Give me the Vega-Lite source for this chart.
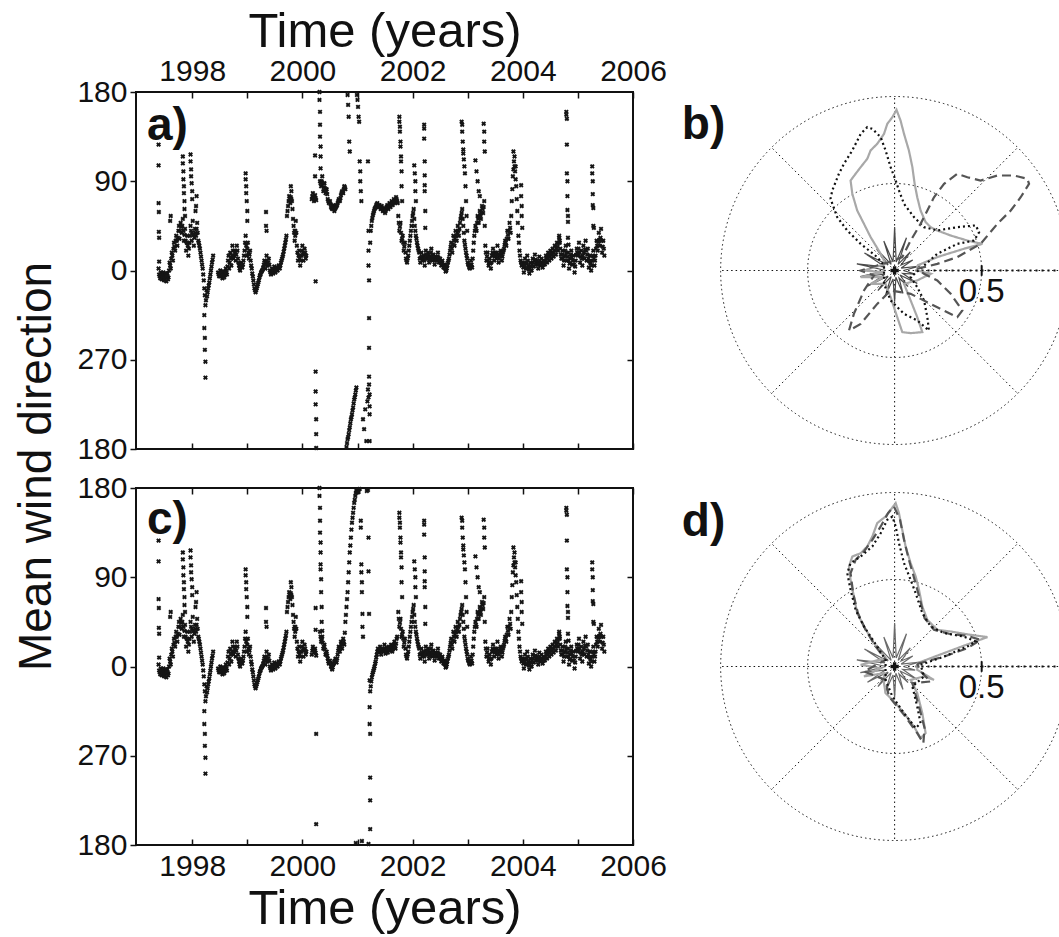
{
"$schema": "https://vega.github.io/schema/vega-lite/v6.json",
"padding": {"left": 12, "top": 6, "right": 0, "bottom": 0},
"background": "white",
"config": {
 "font": "Liberation Sans",
 "view": {"stroke": "#111", "strokeWidth": 2},
 "axis": {"labelFont": "Liberation Sans", "titleFont": "Liberation Sans", "labelFontSize": 30, "labelColor": "#111", "titleFontSize": 49, "titleFontWeight": "normal", "titleColor": "#111", "tickColor": "#111", "tickWidth": 1.5, "grid": false, "domain": false, "labelFlush": false, "labelOverlap": false}
},
"datasets": {
 "ts": [
  {"t":1997.39,"y":2},{"t":1997.41,"y":-6},{"t":1997.43,"y":-2},{"t":1997.45,"y":-9},{"t":1997.47,"y":-4},{"t":1997.49,"y":-10},{"t":1997.51,"y":-5},{"t":1997.53,"y":-11},{"t":1997.55,"y":-3},{"t":1997.57,"y":-7},
  {"t":1997.59,"y":8},{"t":1997.61,"y":2},{"t":1997.63,"y":18},{"t":1997.65,"y":10},{"t":1997.67,"y":28},{"t":1997.69,"y":20},{"t":1997.71,"y":35},{"t":1997.73,"y":25},{"t":1997.75,"y":40},
  {"t":1997.77,"y":32},{"t":1997.79,"y":48},{"t":1997.81,"y":38},{"t":1997.83,"y":52},{"t":1997.85,"y":30},{"t":1997.87,"y":42},
  {"t":1997.89,"y":20},{"t":1997.91,"y":35},{"t":1997.93,"y":15},{"t":1997.95,"y":28},
  {"t":1997.97,"y":45},{"t":1997.99,"y":30},{"t":1998.01,"y":50},{"t":1998.03,"y":25},{"t":1998.05,"y":42},{"t":1998.07,"y":35},{"t":1998.09,"y":48},{"t":1998.11,"y":30},
  {"t":1998.13,"y":25},{"t":1998.15,"y":18},{"t":1998.17,"y":10},{"t":1998.19,"y":2},
  {"t":1998.21,"y":-10},{"t":1998.23,"y":-25},{"t":1998.24,"y":-35},{"t":1998.25,"y":-30},{"t":1998.26,"y":-20},
  {"t":1998.28,"y":-22},{"t":1998.30,"y":-15},{"t":1998.32,"y":-8},{"t":1998.34,"y":0},{"t":1998.36,"y":8},{"t":1998.38,"y":15},
  {"t":1998.47,"y":-2},{"t":1998.49,"y":-6},{"t":1998.51,"y":0},{"t":1998.53,"y":-4},{"t":1998.55,"y":-8},{"t":1998.57,"y":-2},{"t":1998.59,"y":-5},{"t":1998.61,"y":2},{"t":1998.63,"y":-4},
  {"t":1998.65,"y":10},{"t":1998.67,"y":2},{"t":1998.69,"y":18},{"t":1998.71,"y":5},{"t":1998.73,"y":25},{"t":1998.75,"y":12},
  {"t":1998.77,"y":20},{"t":1998.79,"y":10},{"t":1998.81,"y":25},{"t":1998.83,"y":12},
  {"t":1998.85,"y":5},{"t":1998.87,"y":0},{"t":1998.89,"y":8},{"t":1998.91,"y":3},{"t":1998.93,"y":10},
  {"t":1998.95,"y":20},{"t":1998.97,"y":35},{"t":1998.99,"y":15},{"t":1999.01,"y":28},
  {"t":1999.03,"y":12},{"t":1999.05,"y":20},{"t":1999.07,"y":5},
  {"t":1999.09,"y":-3},{"t":1999.11,"y":-10},{"t":1999.13,"y":-18},{"t":1999.15,"y":-22},{"t":1999.17,"y":-18},
  {"t":1999.19,"y":-14},{"t":1999.21,"y":-10},{"t":1999.23,"y":-5},{"t":1999.25,"y":-2},{"t":1999.27,"y":0},{"t":1999.29,"y":3},
  {"t":1999.31,"y":10},{"t":1999.33,"y":2},{"t":1999.35,"y":15},{"t":1999.37,"y":5},{"t":1999.39,"y":12},{"t":1999.41,"y":0},
  {"t":1999.43,"y":-4},{"t":1999.45,"y":2},{"t":1999.47,"y":-3},{"t":1999.49,"y":4},{"t":1999.51,"y":-2},{"t":1999.53,"y":3},{"t":1999.55,"y":0},{"t":1999.57,"y":5},{"t":1999.59,"y":2},
  {"t":1999.61,"y":8},{"t":1999.63,"y":12},{"t":1999.65,"y":16},{"t":1999.67,"y":22},{"t":1999.69,"y":28},{"t":1999.71,"y":35},
  {"t":1999.72,"y":55},{"t":1999.74,"y":65},{"t":1999.76,"y":75},{"t":1999.78,"y":68},{"t":1999.80,"y":80},{"t":1999.82,"y":62},
  {"t":1999.84,"y":45},{"t":1999.86,"y":30},{"t":1999.88,"y":50},{"t":1999.90,"y":25},
  {"t":1999.92,"y":10},{"t":1999.94,"y":20},{"t":1999.96,"y":5},
  {"t":1999.98,"y":15},{"t":2000.00,"y":25},{"t":2000.02,"y":10},{"t":2000.04,"y":22},{"t":2000.06,"y":12},
  {"t":1997.40,"y":-4},{"t":1997.42,"y":-8},{"t":1997.44,"y":-5},{"t":1997.46,"y":-7},{"t":1997.48,"y":-2},{"t":1997.50,"y":-8},{"t":1997.52,"y":-3},{"t":1997.54,"y":-6},{"t":1997.56,"y":-9},{"t":1997.58,"y":0},
  {"t":1997.60,"y":5},{"t":1997.62,"y":12},{"t":1997.64,"y":15},{"t":1997.66,"y":22},{"t":1997.68,"y":24},{"t":1997.70,"y":30},{"t":1997.72,"y":30},{"t":1997.74,"y":33},{"t":1997.76,"y":45},
  {"t":1997.78,"y":40},{"t":1997.80,"y":44},{"t":1997.82,"y":45},{"t":1997.84,"y":40},{"t":1997.86,"y":36},{"t":1997.88,"y":30},
  {"t":1997.90,"y":28},{"t":1997.92,"y":25},{"t":1997.94,"y":22},{"t":1997.96,"y":35},
  {"t":1997.98,"y":40},{"t":1998.00,"y":38},{"t":1998.02,"y":36},{"t":1998.04,"y":33},{"t":1998.06,"y":38},{"t":1998.08,"y":42},{"t":1998.10,"y":38},{"t":1998.12,"y":28},
  {"t":1998.14,"y":22},{"t":1998.16,"y":14},{"t":1998.18,"y":6},{"t":1998.20,"y":-4},
  {"t":1998.22,"y":-18},{"t":1998.27,"y":-26},{"t":1998.29,"y":-18},{"t":1998.31,"y":-12},{"t":1998.33,"y":-4},{"t":1998.35,"y":4},{"t":1998.37,"y":11},
  {"t":1998.48,"y":-4},{"t":1998.50,"y":-3},{"t":1998.52,"y":-6},{"t":1998.54,"y":-1},{"t":1998.56,"y":-5},{"t":1998.58,"y":-7},{"t":1998.60,"y":-1},{"t":1998.62,"y":-2},
  {"t":1998.64,"y":4},{"t":1998.66,"y":15},{"t":1998.68,"y":8},{"t":1998.70,"y":12},{"t":1998.72,"y":15},{"t":1998.74,"y":20},
  {"t":1998.76,"y":15},{"t":1998.78,"y":18},{"t":1998.80,"y":16},{"t":1998.82,"y":20},{"t":1998.84,"y":8},
  {"t":1998.86,"y":2},{"t":1998.88,"y":4},{"t":1998.90,"y":6},{"t":1998.92,"y":6},{"t":1998.94,"y":15},
  {"t":1998.96,"y":28},{"t":1998.98,"y":25},{"t":1999.00,"y":22},{"t":1999.02,"y":18},
  {"t":1999.04,"y":16},{"t":1999.06,"y":10},{"t":1999.08,"y":2},
  {"t":1999.10,"y":-6},{"t":1999.12,"y":-14},{"t":1999.14,"y":-20},{"t":1999.16,"y":-20},{"t":1999.18,"y":-16},
  {"t":1999.20,"y":-12},{"t":1999.22,"y":-7},{"t":1999.24,"y":-4},{"t":1999.26,"y":-1},{"t":1999.28,"y":1},{"t":1999.30,"y":6},
  {"t":1999.32,"y":6},{"t":1999.34,"y":9},{"t":1999.36,"y":10},{"t":1999.38,"y":8},{"t":1999.40,"y":6},{"t":1999.42,"y":-2},
  {"t":1999.44,"y":-1},{"t":1999.46,"y":0},{"t":1999.48,"y":1},{"t":1999.50,"y":1},{"t":1999.52,"y":0},{"t":1999.54,"y":2},{"t":1999.56,"y":3},{"t":1999.58,"y":4},{"t":1999.60,"y":5},
  {"t":1999.62,"y":10},{"t":1999.64,"y":14},{"t":1999.66,"y":19},{"t":1999.68,"y":25},{"t":1999.70,"y":31},
  {"t":1999.73,"y":60},{"t":1999.75,"y":70},{"t":1999.77,"y":72},{"t":1999.79,"y":74},{"t":1999.81,"y":70},{"t":1999.83,"y":52},
  {"t":1999.85,"y":38},{"t":1999.87,"y":40},{"t":1999.89,"y":38},{"t":1999.91,"y":18},
  {"t":1999.93,"y":15},{"t":1999.95,"y":12},{"t":1999.97,"y":10},
  {"t":1999.99,"y":20},{"t":2000.01,"y":18},{"t":2000.03,"y":16},{"t":2000.05,"y":18},{"t":2000.07,"y":15},
  {"t":1997.39,"y":127},{"t":1997.39,"y":106},{"t":1997.39,"y":68},{"t":1997.395,"y":59},{"t":1997.395,"y":39},{"t":1997.4,"y":33},{"t":1997.4,"y":9},
  {"t":1997.6,"y":50},{"t":1997.61,"y":55},
  {"t":1997.83,"y":115},{"t":1997.83,"y":108},{"t":1997.84,"y":100},{"t":1997.84,"y":92},{"t":1997.85,"y":85},{"t":1997.85,"y":78},{"t":1997.86,"y":70},{"t":1997.86,"y":62},{"t":1997.87,"y":55},
  {"t":1997.97,"y":117},{"t":1997.97,"y":110},{"t":1997.98,"y":102},{"t":1997.98,"y":95},{"t":1997.99,"y":88},{"t":1998.0,"y":80},{"t":1998.0,"y":72},
  {"t":1998.06,"y":60},{"t":1998.07,"y":65},{"t":1998.08,"y":75},
  {"t":1998.22,"y":-45},{"t":1998.22,"y":-58},{"t":1998.23,"y":-68},{"t":1998.23,"y":-80},{"t":1998.24,"y":-92},{"t":1998.24,"y":-108},
  {"t":1998.97,"y":98},{"t":1998.97,"y":92},{"t":1998.98,"y":85},{"t":1998.98,"y":78},{"t":1998.99,"y":70},{"t":1999.0,"y":60},{"t":1999.0,"y":50},
  {"t":1999.34,"y":59},{"t":1999.34,"y":45},{"t":1999.35,"y":40},
  {"t":1999.79,"y":85},{"t":1999.8,"y":72},{"t":1999.86,"y":40},{"t":1999.87,"y":35},
  {"t":2000.31,"y":180},{"t":2000.31,"y":172},{"t":2000.32,"y":160},{"t":2000.32,"y":147},{"t":2000.32,"y":135},{"t":2000.33,"y":125},{"t":2000.33,"y":115},{"t":2000.33,"y":103},

  {"t":2000.17,"y":72,"p":"a"},{"t":2000.19,"y":78,"p":"a"},{"t":2000.21,"y":70,"p":"a"},{"t":2000.23,"y":76,"p":"a"},{"t":2000.25,"y":71,"p":"a"},
  {"t":2000.32,"y":90,"p":"a"},{"t":2000.34,"y":85,"p":"a"},{"t":2000.36,"y":95,"p":"a"},{"t":2000.38,"y":80,"p":"a"},{"t":2000.40,"y":88,"p":"a"},{"t":2000.42,"y":78,"p":"a"},{"t":2000.44,"y":82,"p":"a"},
  {"t":2000.46,"y":72,"p":"a"},{"t":2000.48,"y":68,"p":"a"},{"t":2000.50,"y":70,"p":"a"},{"t":2000.52,"y":64,"p":"a"},{"t":2000.54,"y":62,"p":"a"},{"t":2000.56,"y":66,"p":"a"},{"t":2000.58,"y":60,"p":"a"},{"t":2000.60,"y":63,"p":"a"},{"t":2000.62,"y":65,"p":"a"},
  {"t":2000.64,"y":68,"p":"a"},{"t":2000.66,"y":72,"p":"a"},{"t":2000.68,"y":70,"p":"a"},{"t":2000.70,"y":76,"p":"a"},{"t":2000.72,"y":80,"p":"a"},{"t":2000.74,"y":78,"p":"a"},{"t":2000.76,"y":85,"p":"a"},{"t":2000.78,"y":82,"p":"a"},
  {"t":2000.80,"y":-178,"p":"a"},{"t":2000.82,"y":-170,"p":"a"},{"t":2000.84,"y":-165,"p":"a"},{"t":2000.86,"y":-158,"p":"a"},{"t":2000.88,"y":-150,"p":"a"},{"t":2000.90,"y":-145,"p":"a"},{"t":2000.92,"y":-138,"p":"a"},{"t":2000.94,"y":-130,"p":"a"},{"t":2000.96,"y":-125,"p":"a"},{"t":2000.98,"y":-118,"p":"a"},
  {"t":2001.18,"y":-132,"p":"a"},{"t":2001.19,"y":-120,"p":"a"},{"t":2001.20,"y":-128,"p":"a"},{"t":2001.21,"y":-115,"p":"a"},{"t":2001.22,"y":-125,"p":"a"},
  {"t":2001.23,"y":28,"p":"a"},{"t":2001.24,"y":40,"p":"a"},{"t":2001.26,"y":50,"p":"a"},{"t":2001.28,"y":56,"p":"a"},{"t":2001.30,"y":60,"p":"a"},{"t":2001.32,"y":63,"p":"a"},{"t":2001.34,"y":66,"p":"a"},
  {"t":2001.36,"y":68,"p":"a"},{"t":2001.38,"y":64,"p":"a"},{"t":2001.40,"y":66,"p":"a"},{"t":2001.42,"y":62,"p":"a"},{"t":2001.44,"y":65,"p":"a"},{"t":2001.46,"y":60,"p":"a"},{"t":2001.48,"y":63,"p":"a"},{"t":2001.50,"y":58,"p":"a"},{"t":2001.52,"y":62,"p":"a"},{"t":2001.54,"y":66,"p":"a"},{"t":2001.56,"y":62,"p":"a"},{"t":2001.58,"y":68,"p":"a"},{"t":2001.60,"y":64,"p":"a"},{"t":2001.62,"y":70,"p":"a"},{"t":2001.64,"y":66,"p":"a"},{"t":2001.66,"y":72,"p":"a"},{"t":2001.68,"y":68,"p":"a"},{"t":2001.70,"y":74,"p":"a"},{"t":2001.72,"y":70,"p":"a"},
  {"t":2000.18,"y":75,"p":"a"},{"t":2000.20,"y":74,"p":"a"},{"t":2000.22,"y":73,"p":"a"},{"t":2000.24,"y":73,"p":"a"},{"t":2000.33,"y":88,"p":"a"},{"t":2000.35,"y":90,"p":"a"},{"t":2000.37,"y":88,"p":"a"},{"t":2000.39,"y":84,"p":"a"},{"t":2000.41,"y":83,"p":"a"},{"t":2000.43,"y":80,"p":"a"},{"t":2000.45,"y":77,"p":"a"},{"t":2000.47,"y":70,"p":"a"},{"t":2000.49,"y":69,"p":"a"},{"t":2000.51,"y":67,"p":"a"},{"t":2000.53,"y":63,"p":"a"},{"t":2000.55,"y":64,"p":"a"},{"t":2000.57,"y":63,"p":"a"},{"t":2000.59,"y":62,"p":"a"},{"t":2000.61,"y":64,"p":"a"},{"t":2000.63,"y":66,"p":"a"},{"t":2000.65,"y":70,"p":"a"},{"t":2000.67,"y":71,"p":"a"},{"t":2000.69,"y":73,"p":"a"},{"t":2000.71,"y":78,"p":"a"},{"t":2000.73,"y":79,"p":"a"},{"t":2000.75,"y":82,"p":"a"},{"t":2000.77,"y":84,"p":"a"},
  {"t":2000.81,"y":-174,"p":"a"},{"t":2000.83,"y":-168,"p":"a"},{"t":2000.85,"y":-161,"p":"a"},{"t":2000.87,"y":-154,"p":"a"},{"t":2000.89,"y":-148,"p":"a"},{"t":2000.91,"y":-141,"p":"a"},{"t":2000.93,"y":-134,"p":"a"},{"t":2000.95,"y":-128,"p":"a"},{"t":2000.97,"y":-121,"p":"a"},
  {"t":2001.25,"y":45,"p":"a"},{"t":2001.27,"y":53,"p":"a"},{"t":2001.29,"y":58,"p":"a"},{"t":2001.31,"y":62,"p":"a"},{"t":2001.33,"y":64,"p":"a"},{"t":2001.35,"y":67,"p":"a"},{"t":2001.37,"y":66,"p":"a"},{"t":2001.39,"y":65,"p":"a"},{"t":2001.41,"y":64,"p":"a"},{"t":2001.43,"y":63,"p":"a"},{"t":2001.45,"y":62,"p":"a"},{"t":2001.47,"y":61,"p":"a"},{"t":2001.49,"y":60,"p":"a"},{"t":2001.51,"y":60,"p":"a"},{"t":2001.53,"y":64,"p":"a"},{"t":2001.55,"y":64,"p":"a"},{"t":2001.57,"y":65,"p":"a"},{"t":2001.59,"y":66,"p":"a"},{"t":2001.61,"y":67,"p":"a"},{"t":2001.63,"y":68,"p":"a"},{"t":2001.65,"y":69,"p":"a"},{"t":2001.67,"y":70,"p":"a"},{"t":2001.69,"y":71,"p":"a"},{"t":2001.71,"y":72,"p":"a"},{"t":2001.73,"y":68,"p":"a"},
  {"t":2000.23,"y":116,"p":"a"},{"t":2000.23,"y":95,"p":"a"},{"t":2000.24,"y":-11,"p":"a"},{"t":2000.24,"y":-102,"p":"a"},{"t":2000.24,"y":-122,"p":"a"},{"t":2000.24,"y":-135,"p":"a"},{"t":2000.25,"y":-150,"p":"a"},{"t":2000.25,"y":-165,"p":"a"},{"t":2000.25,"y":-179,"p":"a"},
  {"t":2000.82,"y":177,"p":"a"},{"t":2000.83,"y":167,"p":"a"},{"t":2000.84,"y":155,"p":"a"},{"t":2000.85,"y":130,"p":"a"},{"t":2000.86,"y":120,"p":"a"},
  {"t":2000.99,"y":177,"p":"a"},{"t":2001.0,"y":172,"p":"a"},{"t":2001.01,"y":165,"p":"a"},{"t":2001.02,"y":155,"p":"a"},{"t":2001.03,"y":150,"p":"a"},{"t":2001.04,"y":110,"p":"a"},{"t":2001.05,"y":100,"p":"a"},{"t":2001.05,"y":90,"p":"a"},{"t":2001.06,"y":80,"p":"a"},{"t":2001.07,"y":70,"p":"a"},
  {"t":2001.1,"y":-150,"p":"a"},{"t":2001.12,"y":-160,"p":"a"},{"t":2001.14,"y":-140,"p":"a"},{"t":2001.16,"y":-172,"p":"a"},
  {"t":2001.19,"y":110,"p":"a"},{"t":2001.2,"y":40,"p":"a"},{"t":2001.2,"y":20,"p":"a"},{"t":2001.2,"y":5,"p":"a"},{"t":2001.21,"y":-10,"p":"a"},{"t":2001.21,"y":-48,"p":"a"},{"t":2001.21,"y":-78,"p":"a"},{"t":2001.21,"y":-107,"p":"a"},{"t":2001.22,"y":-137,"p":"a"},{"t":2001.22,"y":-145,"p":"a"},{"t":2001.22,"y":-172,"p":"a"},

  {"t":2000.17,"y":12,"p":"c"},{"t":2000.19,"y":20,"p":"c"},{"t":2000.21,"y":14,"p":"c"},{"t":2000.23,"y":18,"p":"c"},{"t":2000.25,"y":11,"p":"c"},
  {"t":2000.32,"y":35,"p":"c"},{"t":2000.34,"y":25,"p":"c"},{"t":2000.36,"y":30,"p":"c"},{"t":2000.38,"y":18,"p":"c"},{"t":2000.40,"y":22,"p":"c"},{"t":2000.42,"y":12,"p":"c"},{"t":2000.44,"y":15,"p":"c"},
  {"t":2000.46,"y":8,"p":"c"},{"t":2000.48,"y":3,"p":"c"},{"t":2000.50,"y":6,"p":"c"},{"t":2000.52,"y":0,"p":"c"},{"t":2000.54,"y":-3,"p":"c"},{"t":2000.56,"y":2,"p":"c"},{"t":2000.58,"y":5,"p":"c"},{"t":2000.60,"y":8,"p":"c"},{"t":2000.62,"y":4,"p":"c"},
  {"t":2000.64,"y":12,"p":"c"},{"t":2000.66,"y":20,"p":"c"},{"t":2000.68,"y":15,"p":"c"},{"t":2000.70,"y":25,"p":"c"},{"t":2000.72,"y":18,"p":"c"},{"t":2000.74,"y":28,"p":"c"},{"t":2000.76,"y":22,"p":"c"},
  {"t":2000.78,"y":45,"p":"c"},{"t":2000.80,"y":60,"p":"c"},{"t":2000.82,"y":75,"p":"c"},{"t":2000.84,"y":95,"p":"c"},{"t":2000.86,"y":115,"p":"c"},{"t":2000.88,"y":130,"p":"c"},{"t":2000.90,"y":145,"p":"c"},{"t":2000.92,"y":155,"p":"c"},{"t":2000.94,"y":165,"p":"c"},{"t":2000.96,"y":172,"p":"c"},{"t":2000.98,"y":177,"p":"c"},
  {"t":2001.00,"y":178,"p":"c"},{"t":2001.02,"y":176,"p":"c"},{"t":2001.04,"y":179,"p":"c"},{"t":2001.17,"y":177,"p":"c"},{"t":2001.19,"y":178,"p":"c"},
  {"t":2001.23,"y":-25,"p":"c"},{"t":2001.25,"y":-15,"p":"c"},{"t":2001.27,"y":-8,"p":"c"},{"t":2001.29,"y":-4,"p":"c"},{"t":2001.31,"y":0,"p":"c"},{"t":2001.33,"y":5,"p":"c"},
  {"t":2001.35,"y":12,"p":"c"},{"t":2001.37,"y":18,"p":"c"},{"t":2001.39,"y":14,"p":"c"},{"t":2001.41,"y":20,"p":"c"},{"t":2001.43,"y":12,"p":"c"},{"t":2001.45,"y":18,"p":"c"},{"t":2001.47,"y":15,"p":"c"},{"t":2001.49,"y":22,"p":"c"},{"t":2001.51,"y":13,"p":"c"},{"t":2001.53,"y":19,"p":"c"},{"t":2001.55,"y":14,"p":"c"},{"t":2001.57,"y":20,"p":"c"},{"t":2001.59,"y":16,"p":"c"},{"t":2001.61,"y":22,"p":"c"},{"t":2001.63,"y":15,"p":"c"},{"t":2001.65,"y":20,"p":"c"},{"t":2001.67,"y":25,"p":"c"},{"t":2001.69,"y":18,"p":"c"},{"t":2001.71,"y":28,"p":"c"},
  {"t":2000.18,"y":16,"p":"c"},{"t":2000.20,"y":17,"p":"c"},{"t":2000.22,"y":16,"p":"c"},{"t":2000.24,"y":14,"p":"c"},{"t":2000.33,"y":30,"p":"c"},{"t":2000.35,"y":28,"p":"c"},{"t":2000.37,"y":24,"p":"c"},{"t":2000.39,"y":20,"p":"c"},{"t":2000.41,"y":17,"p":"c"},{"t":2000.43,"y":13,"p":"c"},{"t":2000.45,"y":11,"p":"c"},{"t":2000.47,"y":5,"p":"c"},{"t":2000.49,"y":4,"p":"c"},{"t":2000.51,"y":3,"p":"c"},{"t":2000.53,"y":-1,"p":"c"},{"t":2000.55,"y":-1,"p":"c"},{"t":2000.57,"y":3,"p":"c"},{"t":2000.59,"y":6,"p":"c"},{"t":2000.61,"y":6,"p":"c"},{"t":2000.63,"y":8,"p":"c"},{"t":2000.65,"y":16,"p":"c"},{"t":2000.67,"y":18,"p":"c"},{"t":2000.69,"y":20,"p":"c"},{"t":2000.71,"y":22,"p":"c"},{"t":2000.73,"y":23,"p":"c"},{"t":2000.75,"y":25,"p":"c"},{"t":2000.77,"y":34,"p":"c"},
  {"t":2000.79,"y":52,"p":"c"},{"t":2000.81,"y":68,"p":"c"},{"t":2000.83,"y":85,"p":"c"},{"t":2000.85,"y":105,"p":"c"},{"t":2000.87,"y":122,"p":"c"},{"t":2000.89,"y":138,"p":"c"},{"t":2000.91,"y":150,"p":"c"},{"t":2000.93,"y":160,"p":"c"},{"t":2000.95,"y":168,"p":"c"},{"t":2000.97,"y":175,"p":"c"},
  {"t":2001.24,"y":-20,"p":"c"},{"t":2001.26,"y":-11,"p":"c"},{"t":2001.28,"y":-6,"p":"c"},{"t":2001.30,"y":-2,"p":"c"},{"t":2001.32,"y":3,"p":"c"},{"t":2001.34,"y":9,"p":"c"},{"t":2001.36,"y":15,"p":"c"},{"t":2001.38,"y":16,"p":"c"},{"t":2001.40,"y":17,"p":"c"},{"t":2001.42,"y":16,"p":"c"},{"t":2001.44,"y":15,"p":"c"},{"t":2001.46,"y":16,"p":"c"},{"t":2001.48,"y":18,"p":"c"},{"t":2001.50,"y":17,"p":"c"},{"t":2001.52,"y":16,"p":"c"},{"t":2001.54,"y":17,"p":"c"},{"t":2001.56,"y":17,"p":"c"},{"t":2001.58,"y":18,"p":"c"},{"t":2001.60,"y":19,"p":"c"},{"t":2001.62,"y":18,"p":"c"},{"t":2001.64,"y":17,"p":"c"},{"t":2001.66,"y":22,"p":"c"},{"t":2001.68,"y":21,"p":"c"},{"t":2001.70,"y":23,"p":"c"},{"t":2001.72,"y":30,"p":"c"},
  {"t":2000.24,"y":59,"p":"c"},{"t":2000.24,"y":37,"p":"c"},{"t":2000.25,"y":-68,"p":"c"},{"t":2000.25,"y":-159,"p":"c"},
  {"t":2000.33,"y":98,"p":"c"},{"t":2000.34,"y":88,"p":"c"},{"t":2000.34,"y":75,"p":"c"},{"t":2000.35,"y":60,"p":"c"},{"t":2000.35,"y":45,"p":"c"},{"t":2000.36,"y":36,"p":"c"},
  {"t":2001.06,"y":147,"p":"c"},{"t":2001.06,"y":140,"p":"c"},{"t":2001.07,"y":103,"p":"c"},{"t":2001.07,"y":95,"p":"c"},{"t":2001.08,"y":85,"p":"c"},{"t":2001.08,"y":75,"p":"c"},{"t":2001.09,"y":53,"p":"c"},{"t":2001.09,"y":40,"p":"c"},{"t":2001.1,"y":30,"p":"c"},
  {"t":2001.2,"y":130,"p":"c"},{"t":2001.2,"y":96,"p":"c"},{"t":2001.21,"y":53,"p":"c"},
  {"t":2001.22,"y":-14,"p":"c"},{"t":2001.22,"y":-41,"p":"c"},{"t":2001.22,"y":-58,"p":"c"},{"t":2001.23,"y":-68,"p":"c"},{"t":2001.23,"y":-112,"p":"c"},{"t":2001.23,"y":-135,"p":"c"},{"t":2001.23,"y":-164,"p":"c"},
  {"t":2000.97,"y":-178,"p":"c"},{"t":2001.08,"y":-176,"p":"c"},{"t":2001.2,"y":-179,"p":"c"},

  {"t":2001.74,"y":55},{"t":2001.76,"y":40},{"t":2001.78,"y":48},{"t":2001.80,"y":30},{"t":2001.82,"y":35},{"t":2001.84,"y":20},{"t":2001.86,"y":28},{"t":2001.88,"y":12},{"t":2001.90,"y":8},
  {"t":2001.92,"y":15},{"t":2001.94,"y":25},{"t":2001.96,"y":35},{"t":2001.98,"y":45},{"t":2002.00,"y":55},{"t":2002.02,"y":62},
  {"t":2002.04,"y":45},{"t":2002.06,"y":35},{"t":2002.08,"y":28},{"t":2002.10,"y":22},{"t":2002.12,"y":18},
  {"t":2002.14,"y":8},{"t":2002.16,"y":18},{"t":2002.18,"y":10},{"t":2002.20,"y":15},{"t":2002.22,"y":5},{"t":2002.24,"y":20},{"t":2002.26,"y":12},{"t":2002.28,"y":18},{"t":2002.30,"y":8},{"t":2002.32,"y":14},{"t":2002.34,"y":22},{"t":2002.36,"y":10},{"t":2002.38,"y":16},{"t":2002.40,"y":6},{"t":2002.42,"y":14},{"t":2002.44,"y":10},{"t":2002.46,"y":18},{"t":2002.48,"y":8},{"t":2002.50,"y":12},{"t":2002.52,"y":5},{"t":2002.54,"y":10},{"t":2002.56,"y":3},{"t":2002.58,"y":6},{"t":2002.60,"y":-1},{"t":2002.62,"y":2},{"t":2002.64,"y":8},
  {"t":2002.66,"y":12},{"t":2002.68,"y":20},{"t":2002.70,"y":28},{"t":2002.72,"y":18},{"t":2002.74,"y":35},{"t":2002.76,"y":25},{"t":2002.78,"y":40},{"t":2002.80,"y":30},{"t":2002.82,"y":45},{"t":2002.84,"y":35},{"t":2002.86,"y":48},
  {"t":2002.88,"y":55},{"t":2002.90,"y":62},{"t":2002.92,"y":45},
  {"t":2002.94,"y":30},{"t":2002.96,"y":22},{"t":2002.98,"y":15},{"t":2003.00,"y":8},{"t":2003.02,"y":5},{"t":2003.04,"y":2},{"t":2003.06,"y":10},{"t":2003.08,"y":3},
  {"t":2003.10,"y":20},{"t":2003.12,"y":35},{"t":2003.14,"y":45},{"t":2003.16,"y":40},{"t":2003.18,"y":55},{"t":2003.20,"y":48},{"t":2003.22,"y":60},{"t":2003.24,"y":52},{"t":2003.26,"y":65},{"t":2003.28,"y":58},{"t":2003.30,"y":70},
  {"t":2003.32,"y":25},{"t":2003.34,"y":10},{"t":2003.36,"y":18},{"t":2003.38,"y":5},{"t":2003.40,"y":12},{"t":2003.42,"y":2},{"t":2003.44,"y":15},
  {"t":2003.46,"y":22},{"t":2003.48,"y":10},{"t":2003.50,"y":18},{"t":2003.52,"y":12},{"t":2003.54,"y":25},{"t":2003.56,"y":8},{"t":2003.58,"y":15},{"t":2003.60,"y":20},{"t":2003.62,"y":10},{"t":2003.64,"y":18},{"t":2003.66,"y":22},
  {"t":2003.68,"y":30},{"t":2003.70,"y":25},{"t":2003.72,"y":40},{"t":2003.74,"y":32},{"t":2003.76,"y":48},{"t":2003.78,"y":38},
  {"t":2003.80,"y":70},{"t":2003.82,"y":95},{"t":2003.84,"y":110},{"t":2003.86,"y":100},{"t":2003.88,"y":85},{"t":2003.90,"y":60},
  {"t":2003.92,"y":35},{"t":2003.94,"y":20},{"t":2003.96,"y":10},{"t":2003.98,"y":5},
  {"t":2004.00,"y":8},{"t":2004.02,"y":-2},{"t":2004.04,"y":12},{"t":2004.06,"y":2},{"t":2004.08,"y":15},{"t":2004.10,"y":5},{"t":2004.12,"y":-3},{"t":2004.14,"y":8},{"t":2004.16,"y":0},{"t":2004.18,"y":12},{"t":2004.20,"y":4},{"t":2004.22,"y":16},{"t":2004.24,"y":6},{"t":2004.26,"y":10},{"t":2004.28,"y":2},{"t":2004.30,"y":14},{"t":2004.32,"y":5},{"t":2004.34,"y":12},{"t":2004.36,"y":3},{"t":2004.38,"y":10},{"t":2004.40,"y":6},{"t":2004.42,"y":15},{"t":2004.44,"y":8},{"t":2004.46,"y":18},{"t":2004.48,"y":10},{"t":2004.50,"y":20},{"t":2004.52,"y":12},{"t":2004.54,"y":22},{"t":2004.56,"y":14},{"t":2004.58,"y":25},{"t":2004.60,"y":16},{"t":2004.62,"y":28},{"t":2004.64,"y":20},{"t":2004.66,"y":35},{"t":2004.68,"y":22},
  {"t":2004.70,"y":12},{"t":2004.72,"y":20},{"t":2004.74,"y":5},{"t":2004.76,"y":15},{"t":2004.78,"y":25},{"t":2004.80,"y":10},{"t":2004.82,"y":18},{"t":2004.84,"y":2},{"t":2004.86,"y":12},{"t":2004.88,"y":20},{"t":2004.90,"y":6},{"t":2004.92,"y":15},{"t":2004.94,"y":-2},{"t":2004.96,"y":10},{"t":2004.98,"y":22},
  {"t":2005.00,"y":15},{"t":2005.02,"y":28},{"t":2005.04,"y":8},{"t":2005.06,"y":20},{"t":2005.08,"y":5},{"t":2005.10,"y":25},{"t":2005.12,"y":12},{"t":2005.14,"y":30},{"t":2005.16,"y":10},{"t":2005.18,"y":22},{"t":2005.20,"y":3},{"t":2005.22,"y":15},
  {"t":2005.24,"y":0},{"t":2005.26,"y":10},{"t":2005.28,"y":20},{"t":2005.30,"y":5},{"t":2005.32,"y":15},
  {"t":2005.34,"y":30},{"t":2005.36,"y":20},{"t":2005.38,"y":38},{"t":2005.40,"y":25},{"t":2005.42,"y":42},{"t":2005.44,"y":18},{"t":2005.46,"y":30},{"t":2005.48,"y":15},
  {"t":2001.75,"y":48},{"t":2001.77,"y":44},{"t":2001.79,"y":38},{"t":2001.81,"y":32},{"t":2001.83,"y":28},{"t":2001.85,"y":24},{"t":2001.87,"y":18},{"t":2001.89,"y":10},{"t":2001.91,"y":12},
  {"t":2001.93,"y":20},{"t":2001.95,"y":30},{"t":2001.97,"y":40},{"t":2001.99,"y":50},{"t":2002.01,"y":58},{"t":2002.03,"y":52},
  {"t":2002.05,"y":40},{"t":2002.07,"y":32},{"t":2002.09,"y":25},{"t":2002.11,"y":20},{"t":2002.13,"y":12},
  {"t":2002.15,"y":13},{"t":2002.17,"y":14},{"t":2002.19,"y":12},{"t":2002.21,"y":10},{"t":2002.23,"y":12},{"t":2002.25,"y":16},{"t":2002.27,"y":15},{"t":2002.29,"y":13},{"t":2002.31,"y":11},{"t":2002.33,"y":18},{"t":2002.35,"y":16},{"t":2002.37,"y":13},{"t":2002.39,"y":11},{"t":2002.41,"y":10},{"t":2002.43,"y":12},{"t":2002.45,"y":14},{"t":2002.47,"y":13},{"t":2002.49,"y":10},{"t":2002.51,"y":8},{"t":2002.53,"y":7},{"t":2002.55,"y":6},{"t":2002.57,"y":4},{"t":2002.59,"y":2},{"t":2002.61,"y":0},{"t":2002.63,"y":5},{"t":2002.65,"y":10},
  {"t":2002.67,"y":16},{"t":2002.69,"y":24},{"t":2002.71,"y":22},{"t":2002.73,"y":26},{"t":2002.75,"y":30},{"t":2002.77,"y":32},{"t":2002.79,"y":35},{"t":2002.81,"y":38},{"t":2002.83,"y":40},{"t":2002.85,"y":42},{"t":2002.87,"y":52},
  {"t":2002.89,"y":58},{"t":2002.91,"y":52},{"t":2002.93,"y":38},
  {"t":2002.95,"y":26},{"t":2002.97,"y":18},{"t":2002.99,"y":12},{"t":2003.01,"y":6},{"t":2003.03,"y":3},{"t":2003.05,"y":6},{"t":2003.07,"y":6},{"t":2003.09,"y":12},
  {"t":2003.11,"y":28},{"t":2003.13,"y":40},{"t":2003.15,"y":42},{"t":2003.17,"y":48},{"t":2003.19,"y":52},{"t":2003.21,"y":54},{"t":2003.23,"y":56},{"t":2003.25,"y":58},{"t":2003.27,"y":62},{"t":2003.29,"y":64},{"t":2003.31,"y":45},
  {"t":2003.33,"y":18},{"t":2003.35,"y":14},{"t":2003.37,"y":10},{"t":2003.39,"y":8},{"t":2003.41,"y":7},{"t":2003.43,"y":8},{"t":2003.45,"y":18},
  {"t":2003.47,"y":16},{"t":2003.49,"y":14},{"t":2003.51,"y":15},{"t":2003.53,"y":18},{"t":2003.55,"y":16},{"t":2003.57,"y":12},{"t":2003.59,"y":18},{"t":2003.61,"y":15},{"t":2003.63,"y":14},{"t":2003.65,"y":20},{"t":2003.67,"y":26},
  {"t":2003.69,"y":28},{"t":2003.71,"y":32},{"t":2003.73,"y":36},{"t":2003.75,"y":40},{"t":2003.77,"y":43},{"t":2003.79,"y":55},
  {"t":2003.81,"y":82},{"t":2003.83,"y":102},{"t":2003.85,"y":105},{"t":2003.87,"y":92},{"t":2003.89,"y":72},{"t":2003.91,"y":48},
  {"t":2003.93,"y":28},{"t":2003.95,"y":15},{"t":2003.97,"y":8},{"t":2003.99,"y":6},
  {"t":2004.01,"y":3},{"t":2004.03,"y":5},{"t":2004.05,"y":7},{"t":2004.07,"y":8},{"t":2004.09,"y":10},{"t":2004.11,"y":1},{"t":2004.13,"y":2},{"t":2004.15,"y":4},{"t":2004.17,"y":6},{"t":2004.19,"y":8},{"t":2004.21,"y":10},{"t":2004.23,"y":11},{"t":2004.25,"y":8},{"t":2004.27,"y":6},{"t":2004.29,"y":8},{"t":2004.31,"y":10},{"t":2004.33,"y":8},{"t":2004.35,"y":7},{"t":2004.37,"y":6},{"t":2004.39,"y":8},{"t":2004.41,"y":10},{"t":2004.43,"y":12},{"t":2004.45,"y":13},{"t":2004.47,"y":14},{"t":2004.49,"y":15},{"t":2004.51,"y":16},{"t":2004.53,"y":17},{"t":2004.55,"y":18},{"t":2004.57,"y":20},{"t":2004.59,"y":20},{"t":2004.61,"y":22},{"t":2004.63,"y":24},{"t":2004.65,"y":28},{"t":2004.67,"y":28},{"t":2004.69,"y":16},
  {"t":2004.71,"y":16},{"t":2004.73,"y":12},{"t":2004.75,"y":10},{"t":2004.77,"y":20},{"t":2004.79,"y":18},{"t":2004.81,"y":14},{"t":2004.83,"y":10},{"t":2004.85,"y":7},{"t":2004.87,"y":16},{"t":2004.89,"y":13},{"t":2004.91,"y":10},{"t":2004.93,"y":6},{"t":2004.95,"y":4},{"t":2004.97,"y":16},{"t":2004.99,"y":18},
  {"t":2005.01,"y":22},{"t":2005.03,"y":18},{"t":2005.05,"y":14},{"t":2005.07,"y":12},{"t":2005.09,"y":15},{"t":2005.11,"y":18},{"t":2005.13,"y":21},{"t":2005.15,"y":20},{"t":2005.17,"y":16},{"t":2005.19,"y":12},{"t":2005.21,"y":9},{"t":2005.23,"y":7},
  {"t":2005.25,"y":5},{"t":2005.27,"y":15},{"t":2005.29,"y":12},{"t":2005.31,"y":10},{"t":2005.33,"y":22},
  {"t":2005.35,"y":25},{"t":2005.37,"y":29},{"t":2005.39,"y":31},{"t":2005.41,"y":33},{"t":2005.43,"y":30},{"t":2005.45,"y":24},{"t":2005.47,"y":22},
  {"t":2001.76,"y":155},{"t":2001.76,"y":150},{"t":2001.77,"y":145},{"t":2001.77,"y":140},{"t":2001.78,"y":130},{"t":2001.78,"y":125},{"t":2001.79,"y":115},{"t":2001.79,"y":110},{"t":2001.8,"y":100},{"t":2001.8,"y":85},{"t":2001.81,"y":70},
  {"t":2002.03,"y":106},{"t":2002.04,"y":98},{"t":2002.05,"y":90},{"t":2002.05,"y":80},{"t":2002.06,"y":70},
  {"t":2002.21,"y":147},{"t":2002.21,"y":143},{"t":2002.21,"y":133},{"t":2002.22,"y":110},{"t":2002.22,"y":96},{"t":2002.22,"y":86},{"t":2002.22,"y":80},{"t":2002.23,"y":60},{"t":2002.23,"y":43},
  {"t":2002.89,"y":150},{"t":2002.9,"y":147},{"t":2002.9,"y":140},{"t":2002.91,"y":130},{"t":2002.92,"y":122},{"t":2002.92,"y":118},{"t":2002.93,"y":112},{"t":2002.94,"y":105},{"t":2002.95,"y":98},{"t":2002.96,"y":85},{"t":2002.97,"y":70},{"t":2002.98,"y":55},{"t":2002.99,"y":40},
  {"t":2003.14,"y":111},{"t":2003.16,"y":100},{"t":2003.18,"y":90},{"t":2003.2,"y":80},{"t":2003.22,"y":75},
  {"t":2003.29,"y":148},{"t":2003.3,"y":140},{"t":2003.3,"y":130},{"t":2003.31,"y":120},
  {"t":2003.83,"y":120},{"t":2003.85,"y":115},{"t":2003.87,"y":105},
  {"t":2003.97,"y":86},{"t":2003.97,"y":75},{"t":2003.98,"y":65},{"t":2003.98,"y":55},{"t":2003.99,"y":43},
  {"t":2004.66,"y":33},{"t":2004.67,"y":30},
  {"t":2004.79,"y":160},{"t":2004.79,"y":157},{"t":2004.8,"y":153},{"t":2004.8,"y":127},{"t":2004.8,"y":98},{"t":2004.81,"y":90},{"t":2004.81,"y":75},{"t":2004.81,"y":61},{"t":2004.82,"y":55},{"t":2004.82,"y":49},{"t":2004.82,"y":33},{"t":2004.83,"y":26},
  {"t":2005.26,"y":105},{"t":2005.26,"y":98},{"t":2005.27,"y":90},{"t":2005.27,"y":77},{"t":2005.27,"y":66},{"t":2005.28,"y":63},{"t":2005.28,"y":45},{"t":2005.29,"y":43}
 ],
 "spokes": [{"z":0,"u":1,"v":0},{"z":0,"u":0.7071,"v":0.7071},{"z":0,"u":0,"v":1},{"z":0,"u":-0.7071,"v":0.7071},{"z":0,"u":-1,"v":0},{"z":0,"u":-0.7071,"v":-0.7071},{"z":0,"u":0,"v":-1},{"z":0,"u":0.7071,"v":-0.7071}],
 "star": [
  {"i":0,"u":0.05,"v":0},{"i":1,"u":0.148,"v":0.026},{"i":2,"u":0.038,"v":0.014},{"i":3,"u":0.104,"v":0.06},{"i":4,"u":0.038,"v":0.032},{"i":5,"u":0.09,"v":0.107},{"i":6,"u":0.02,"v":0.035},{"i":7,"u":0.068,"v":0.188},{"i":8,"u":0.009,"v":0.049},{"i":9,"u":0,"v":0.25},{"i":10,"u":-0.009,"v":0.049},{"i":11,"u":-0.062,"v":0.169},{"i":12,"u":-0.02,"v":0.035},{"i":13,"u":-0.103,"v":0.123},{"i":14,"u":-0.038,"v":0.032},{"i":15,"u":-0.173,"v":0.1},{"i":16,"u":-0.056,"v":0.021},{"i":17,"u":-0.217,"v":0.038},{"i":18,"u":-0.05,"v":0},{"i":19,"u":-0.197,"v":-0.035},{"i":20,"u":-0.056,"v":-0.021},{"i":21,"u":-0.156,"v":-0.09},{"i":22,"u":-0.038,"v":-0.032},{"i":23,"u":-0.096,"v":-0.115},{"i":24,"u":-0.02,"v":-0.035},{"i":25,"u":-0.055,"v":-0.15},{"i":26,"u":-0.009,"v":-0.049},{"i":27,"u":0,"v":-0.18},{"i":28,"u":0.007,"v":-0.039},{"i":29,"u":0.048,"v":-0.132},{"i":30,"u":0.025,"v":-0.043},{"i":31,"u":0.077,"v":-0.092},{"i":32,"u":0.031,"v":-0.026},{"i":33,"u":0.13,"v":-0.075},{"i":34,"u":0.047,"v":-0.017},{"i":35,"u":0.118,"v":-0.021},{"i":36,"u":0.05,"v":0}
 ],
 "polb": [
  {"s":"solid","i":0,"u":0.130,"v":0.029},{"s":"solid","i":1,"u":0.245,"v":0.077},{"s":"solid","i":2,"u":0.398,"v":0.125},{"s":"solid","i":3,"u":0.504,"v":0.153},{"s":"solid","i":4,"u":0.418,"v":0.172},{"s":"solid","i":5,"u":0.322,"v":0.201},{"s":"solid","i":6,"u":0.245,"v":0.230},{"s":"solid","i":7,"u":0.207,"v":0.249},{"s":"solid","i":8,"u":0.178,"v":0.278},{"s":"solid","i":9,"u":0.149,"v":0.345},{"s":"solid","i":10,"u":0.130,"v":0.421},{"s":"solid","i":11,"u":0.115,"v":0.498},{"s":"solid","i":12,"u":0.102,"v":0.594},{"s":"solid","i":13,"u":0.082,"v":0.690},{"s":"solid","i":14,"u":0.054,"v":0.785},{"s":"solid","i":15,"u":0.034,"v":0.862},{"s":"solid","i":16,"u":0.011,"v":0.923},{"s":"solid","i":17,"u":-0.013,"v":0.881},{"s":"solid","i":18,"u":-0.042,"v":0.843},{"s":"solid","i":19,"u":-0.061,"v":0.785},{"s":"solid","i":20,"u":-0.100,"v":0.728},{"s":"solid","i":21,"u":-0.138,"v":0.690},{"s":"solid","i":22,"u":-0.157,"v":0.642},{"s":"solid","i":23,"u":-0.195,"v":0.594},{"s":"solid","i":24,"u":-0.224,"v":0.556},{"s":"solid","i":25,"u":-0.253,"v":0.517},{"s":"solid","i":26,"u":-0.243,"v":0.441},{"s":"solid","i":27,"u":-0.215,"v":0.345},{"s":"solid","i":28,"u":-0.176,"v":0.268},{"s":"solid","i":29,"u":-0.138,"v":0.192},{"s":"solid","i":30,"u":-0.080,"v":0.096},{"s":"solid","i":31,"u":-0.052,"v":0.038},{"s":"solid","i":32,"u":-0.176,"v":0},{"s":"solid","i":33,"u":-0.061,"v":-0.010},{"s":"solid","i":34,"u":-0.195,"v":-0.038},{"s":"solid","i":35,"u":-0.061,"v":-0.038},{"s":"solid","i":36,"u":-0.138,"v":-0.077},{"s":"solid","i":37,"u":-0.052,"v":-0.077},{"s":"solid","i":38,"u":-0.023,"v":-0.153},{"s":"solid","i":39,"u":0.015,"v":-0.268},{"s":"solid","i":40,"u":0.044,"v":-0.354},{"s":"solid","i":41,"u":0.092,"v":-0.360},{"s":"solid","i":42,"u":0.159,"v":-0.354},{"s":"solid","i":43,"u":0.130,"v":-0.268},{"s":"solid","i":44,"u":0.092,"v":-0.172},{"s":"solid","i":45,"u":0.054,"v":-0.077},{"s":"solid","i":46,"u":0.130,"v":-0.057},{"s":"solid","i":47,"u":0.207,"v":-0.019},{"s":"solid","i":48,"u":0.130,"v":0},{"s":"solid","i":49,"u":0.130,"v":0.029},
  {"s":"dot","i":0,"u":0.149,"v":0.010},{"s":"dot","i":1,"u":0.245,"v":0.096},{"s":"dot","i":2,"u":0.360,"v":0.153},{"s":"dot","i":3,"u":0.456,"v":0.172},{"s":"dot","i":4,"u":0.485,"v":0.220},{"s":"dot","i":5,"u":0.466,"v":0.259},{"s":"dot","i":6,"u":0.360,"v":0.249},{"s":"dot","i":7,"u":0.245,"v":0.230},{"s":"dot","i":8,"u":0.169,"v":0.249},{"s":"dot","i":9,"u":0.111,"v":0.307},{"s":"dot","i":10,"u":0.054,"v":0.383},{"s":"dot","i":11,"u":0.025,"v":0.460},{"s":"dot","i":12,"u":0.006,"v":0.517},{"s":"dot","i":13,"u":-0.023,"v":0.594},{"s":"dot","i":14,"u":-0.052,"v":0.690},{"s":"dot","i":15,"u":-0.080,"v":0.766},{"s":"dot","i":16,"u":-0.128,"v":0.814},{"s":"dot","i":17,"u":-0.157,"v":0.824},{"s":"dot","i":18,"u":-0.195,"v":0.785},{"s":"dot","i":19,"u":-0.243,"v":0.690},{"s":"dot","i":20,"u":-0.291,"v":0.613},{"s":"dot","i":21,"u":-0.320,"v":0.556},{"s":"dot","i":22,"u":-0.358,"v":0.460},{"s":"dot","i":23,"u":-0.368,"v":0.412},{"s":"dot","i":24,"u":-0.330,"v":0.307},{"s":"dot","i":25,"u":-0.272,"v":0.230},{"s":"dot","i":26,"u":-0.195,"v":0.153},{"s":"dot","i":27,"u":-0.100,"v":0.077},{"s":"dot","i":28,"u":-0.061,"v":0.029},{"s":"dot","i":29,"u":-0.061,"v":-0.077},{"s":"dot","i":30,"u":-0.023,"v":-0.172},{"s":"dot","i":31,"u":0.054,"v":-0.249},{"s":"dot","i":32,"u":0.130,"v":-0.287},{"s":"dot","i":33,"u":0.197,"v":-0.345},{"s":"dot","i":34,"u":0.188,"v":-0.268},{"s":"dot","i":35,"u":0.169,"v":-0.172},{"s":"dot","i":36,"u":0.130,"v":-0.096},{"s":"dot","i":37,"u":0.092,"v":-0.038},{"s":"dot","i":38,"u":0.149,"v":0.010},
  {"s":"dash","i":0,"u":0.130,"v":0.010},{"s":"dash","i":1,"u":0.245,"v":0.038},{"s":"dash","i":2,"u":0.360,"v":0.077},{"s":"dash","i":3,"u":0.494,"v":0.153},{"s":"dash","i":4,"u":0.590,"v":0.268},{"s":"dash","i":5,"u":0.667,"v":0.345},{"s":"dash","i":6,"u":0.724,"v":0.421},{"s":"dash","i":7,"u":0.772,"v":0.498},{"s":"dash","i":8,"u":0.762,"v":0.527},{"s":"dash","i":9,"u":0.686,"v":0.546},{"s":"dash","i":10,"u":0.590,"v":0.546},{"s":"dash","i":11,"u":0.494,"v":0.517},{"s":"dash","i":12,"u":0.418,"v":0.536},{"s":"dash","i":13,"u":0.360,"v":0.556},{"s":"dash","i":14,"u":0.284,"v":0.498},{"s":"dash","i":15,"u":0.226,"v":0.421},{"s":"dash","i":16,"u":0.188,"v":0.345},{"s":"dash","i":17,"u":0.149,"v":0.268},{"s":"dash","i":18,"u":0.092,"v":0.172},{"s":"dash","i":19,"u":0.044,"v":0.077},{"s":"dash","i":20,"u":-0.004,"v":0.057},{"s":"dash","i":21,"u":-0.100,"v":0.029},{"s":"dash","i":22,"u":-0.195,"v":0},{"s":"dash","i":23,"u":-0.119,"v":-0.029},{"s":"dash","i":24,"u":-0.176,"v":-0.115},{"s":"dash","i":25,"u":-0.234,"v":-0.249},{"s":"dash","i":26,"u":-0.262,"v":-0.345},{"s":"dash","i":27,"u":-0.195,"v":-0.307},{"s":"dash","i":28,"u":-0.100,"v":-0.192},{"s":"dash","i":29,"u":-0.023,"v":-0.115},{"s":"dash","i":30,"u":0.092,"v":-0.134},{"s":"dash","i":31,"u":0.245,"v":-0.211},{"s":"dash","i":32,"u":0.360,"v":-0.268},{"s":"dash","i":33,"u":0.389,"v":-0.230},{"s":"dash","i":34,"u":0.322,"v":-0.134},{"s":"dash","i":35,"u":0.245,"v":-0.057},{"s":"dash","i":36,"u":0.169,"v":-0.019},{"s":"dash","i":37,"u":0.130,"v":0.010}
 ],
 "pold": [
  {"s":"solid","i":0,"u":0.130,"v":0.019},{"s":"solid","i":1,"u":0.284,"v":0.077},{"s":"solid","i":2,"u":0.437,"v":0.134},{"s":"solid","i":3,"u":0.533,"v":0.169},{"s":"solid","i":4,"u":0.437,"v":0.182},{"s":"solid","i":5,"u":0.322,"v":0.201},{"s":"solid","i":6,"u":0.245,"v":0.211},{"s":"solid","i":7,"u":0.188,"v":0.268},{"s":"solid","i":8,"u":0.159,"v":0.345},{"s":"solid","i":9,"u":0.140,"v":0.441},{"s":"solid","i":10,"u":0.121,"v":0.517},{"s":"solid","i":11,"u":0.092,"v":0.594},{"s":"solid","i":12,"u":0.063,"v":0.690},{"s":"solid","i":13,"u":0.044,"v":0.785},{"s":"solid","i":14,"u":0.025,"v":0.881},{"s":"solid","i":15,"u":0.006,"v":0.939},{"s":"solid","i":16,"u":-0.023,"v":0.900},{"s":"solid","i":17,"u":-0.052,"v":0.862},{"s":"solid","i":18,"u":-0.100,"v":0.824},{"s":"solid","i":19,"u":-0.128,"v":0.747},{"s":"solid","i":20,"u":-0.157,"v":0.690},{"s":"solid","i":21,"u":-0.195,"v":0.651},{"s":"solid","i":22,"u":-0.243,"v":0.632},{"s":"solid","i":23,"u":-0.262,"v":0.575},{"s":"solid","i":24,"u":-0.253,"v":0.498},{"s":"solid","i":25,"u":-0.234,"v":0.402},{"s":"solid","i":26,"u":-0.215,"v":0.307},{"s":"solid","i":27,"u":-0.176,"v":0.230},{"s":"solid","i":28,"u":-0.119,"v":0.134},{"s":"solid","i":29,"u":-0.052,"v":0.048},{"s":"solid","i":30,"u":-0.195,"v":0.010},{"s":"solid","i":31,"u":-0.080,"v":-0.010},{"s":"solid","i":32,"u":-0.176,"v":-0.057},{"s":"solid","i":33,"u":-0.061,"v":-0.038},{"s":"solid","i":34,"u":-0.061,"v":-0.096},{"s":"solid","i":35,"u":-0.052,"v":-0.153},{"s":"solid","i":36,"u":-0.004,"v":-0.201},{"s":"solid","i":37,"u":0.054,"v":-0.268},{"s":"solid","i":38,"u":0.111,"v":-0.345},{"s":"solid","i":39,"u":0.149,"v":-0.412},{"s":"solid","i":40,"u":0.178,"v":-0.383},{"s":"solid","i":41,"u":0.159,"v":-0.268},{"s":"solid","i":42,"u":0.130,"v":-0.153},{"s":"solid","i":43,"u":0.092,"v":-0.077},{"s":"solid","i":44,"u":0.169,"v":-0.057},{"s":"solid","i":45,"u":0.226,"v":-0.077},{"s":"solid","i":46,"u":0.130,"v":-0.019},{"s":"solid","i":47,"u":0.130,"v":0.019},
  {"s":"dash","i":0,"u":0.130,"v":0.015},{"s":"dash","i":1,"u":0.284,"v":0.057},{"s":"dash","i":2,"u":0.418,"v":0.105},{"s":"dash","i":3,"u":0.494,"v":0.153},{"s":"dash","i":4,"u":0.418,"v":0.176},{"s":"dash","i":5,"u":0.312,"v":0.188},{"s":"dash","i":6,"u":0.226,"v":0.211},{"s":"dash","i":7,"u":0.172,"v":0.278},{"s":"dash","i":8,"u":0.146,"v":0.383},{"s":"dash","i":9,"u":0.115,"v":0.498},{"s":"dash","i":10,"u":0.082,"v":0.613},{"s":"dash","i":11,"u":0.054,"v":0.728},{"s":"dash","i":12,"u":0.031,"v":0.843},{"s":"dash","i":13,"u":-0.004,"v":0.920},{"s":"dash","i":14,"u":-0.038,"v":0.881},{"s":"dash","i":15,"u":-0.080,"v":0.805},{"s":"dash","i":16,"u":-0.128,"v":0.728},{"s":"dash","i":17,"u":-0.176,"v":0.661},{"s":"dash","i":18,"u":-0.224,"v":0.613},{"s":"dash","i":19,"u":-0.253,"v":0.536},{"s":"dash","i":20,"u":-0.238,"v":0.421},{"s":"dash","i":21,"u":-0.211,"v":0.307},{"s":"dash","i":22,"u":-0.167,"v":0.211},{"s":"dash","i":23,"u":-0.109,"v":0.115},{"s":"dash","i":24,"u":-0.052,"v":0.038},{"s":"dash","i":25,"u":-0.176,"v":-0.029},{"s":"dash","i":26,"u":-0.052,"v":-0.077},{"s":"dash","i":27,"u":-0.033,"v":-0.172},{"s":"dash","i":28,"u":0.054,"v":-0.278},{"s":"dash","i":29,"u":0.130,"v":-0.383},{"s":"dash","i":30,"u":0.165,"v":-0.441},{"s":"dash","i":31,"u":0.172,"v":-0.354},{"s":"dash","i":32,"u":0.140,"v":-0.230},{"s":"dash","i":33,"u":0.102,"v":-0.096},{"s":"dash","i":34,"u":0.207,"v":-0.086},{"s":"dash","i":35,"u":0.149,"v":-0.029},{"s":"dash","i":36,"u":0.130,"v":0.015},
  {"s":"dot","i":0,"u":0.149,"v":0.010},{"s":"dot","i":1,"u":0.284,"v":0.057},{"s":"dot","i":2,"u":0.418,"v":0.115},{"s":"dot","i":3,"u":0.466,"v":0.144},{"s":"dot","i":4,"u":0.398,"v":0.172},{"s":"dot","i":5,"u":0.284,"v":0.192},{"s":"dot","i":6,"u":0.207,"v":0.230},{"s":"dot","i":7,"u":0.159,"v":0.307},{"s":"dot","i":8,"u":0.121,"v":0.421},{"s":"dot","i":9,"u":0.092,"v":0.498},{"s":"dot","i":10,"u":0.054,"v":0.594},{"s":"dot","i":11,"u":0.025,"v":0.709},{"s":"dot","i":12,"u":0.006,"v":0.805},{"s":"dot","i":13,"u":-0.013,"v":0.862},{"s":"dot","i":14,"u":-0.042,"v":0.843},{"s":"dot","i":15,"u":-0.080,"v":0.766},{"s":"dot","i":16,"u":-0.128,"v":0.690},{"s":"dot","i":17,"u":-0.195,"v":0.632},{"s":"dot","i":18,"u":-0.253,"v":0.594},{"s":"dot","i":19,"u":-0.272,"v":0.536},{"s":"dot","i":20,"u":-0.253,"v":0.441},{"s":"dot","i":21,"u":-0.224,"v":0.326},{"s":"dot","i":22,"u":-0.176,"v":0.230},{"s":"dot","i":23,"u":-0.100,"v":0.115},{"s":"dot","i":24,"u":-0.052,"v":0.038},{"s":"dot","i":25,"u":-0.052,"v":-0.077},{"s":"dot","i":26,"u":-0.013,"v":-0.172},{"s":"dot","i":27,"u":0.054,"v":-0.268},{"s":"dot","i":28,"u":0.121,"v":-0.354},{"s":"dot","i":29,"u":0.149,"v":-0.326},{"s":"dot","i":30,"u":0.130,"v":-0.230},{"s":"dot","i":31,"u":0.102,"v":-0.115},{"s":"dot","i":32,"u":0.169,"v":-0.057},{"s":"dot","i":33,"u":0.149,"v":0.010}
 ]
},
"concat": [
 {
  "width": 497, "height": 357,
  "layer": [
   {"data": {"name": "ts"}, "transform": [{"filter": "datum.p !== 'c'"}],
    "mark": {"type": "point", "shape": "cross", "angle": 45, "filled": true, "size": 24, "color": "#151515", "opacity": 1},
    "encoding": {
     "x": {"field": "t", "type": "quantitative", "scale": {"domain": [1996.98, 2006], "nice": false, "zero": false},
           "axis": {"orient": "top", "values": [1998, 2000, 2002, 2004, 2006], "format": "d", "ticks": false, "labelPadding": 6, "title": "Time (years)", "titlePadding": 0}},
     "y": {"field": "y", "type": "quantitative", "scale": {"domain": [-180, 180], "nice": false, "zero": false},
           "axis": {"orient": "left", "values": [-180, -90, 0, 90, 180], "labelExpr": "datum.value < 0 ? '' + (datum.value + 360) : datum.label", "tickSize": 6, "labelPadding": 3, "title": "Mean wind direction", "titleFontSize": 46, "titleY": 374, "titlePadding": 16}}
    }},
   {"data": {"values": [{"t": 2000, "y": 0}]}, "mark": {"type": "point", "opacity": 0},
    "encoding": {
     "x": {"field": "t", "type": "quantitative", "axis": {"orient": "top", "values": [1998, 1999, 2000, 2001, 2002, 2003, 2004, 2005, 2006], "labels": false, "tickSize": 6, "offset": -6, "title": null}},
     "y": {"field": "y", "type": "quantitative", "axis": {"orient": "right", "values": [-90, 0, 90], "labels": false, "tickSize": 6, "offset": -6, "title": null}}
    }},
   {"data": {"values": [{"t": 2000, "y": 0}]}, "mark": {"type": "point", "opacity": 0},
    "encoding": {
     "x": {"field": "t", "type": "quantitative", "axis": {"orient": "bottom", "values": [1998, 1999, 2000, 2001, 2002, 2003, 2004, 2005, 2006], "labels": false, "tickSize": 6, "offset": -6, "title": null}},
     "y": {"field": "y", "type": "quantitative", "axis": null}
    }},
   {"data": {"values": [{"t": 1997.18, "y": 132, "lab": "a)"}]}, "mark": {"type": "text", "fontSize": 46, "fontWeight": "bold", "align": "left", "baseline": "alphabetic", "color": "#111"},
    "encoding": {"x": {"field": "t", "type": "quantitative", "axis": null}, "y": {"field": "y", "type": "quantitative", "axis": null}, "text": {"field": "lab", "type": "nominal"}}}
  ],
  "resolve": {"axis": {"x": "independent", "y": "independent"}}
 },
 {
  "width": 347, "height": 357,
  "view": {"stroke": null},
  "layer": [
   {"data": {"name": "spokes"}, "mark": {"type": "rule", "color": "#111", "strokeWidth": 1, "strokeDash": [1.5, 3], "clip": true},
    "encoding": {
     "x": {"field": "z", "type": "quantitative", "scale": {"domain": [-1.02586, 0.967], "nice": false, "zero": false}, "axis": null},
     "y": {"field": "z", "type": "quantitative", "scale": {"domain": [-1.02586, 1.02586], "nice": false, "zero": false}, "axis": null},
     "x2": {"field": "u"}, "y2": {"field": "v"}}},
   {"data": {"values": [{"u": 0, "v": 0}]}, "mark": {"type": "point", "shape": "circle", "filled": false, "size": 121104, "color": "#111", "strokeWidth": 1, "strokeDash": [1.5, 3], "opacity": 1, "clip": true},
    "encoding": {"x": {"field": "u", "type": "quantitative", "axis": null}, "y": {"field": "v", "type": "quantitative", "axis": null}}},
   {"data": {"values": [{"u": 0, "v": 0}]}, "mark": {"type": "point", "shape": "circle", "filled": false, "size": 30276, "color": "#111", "strokeWidth": 1, "strokeDash": [1.5, 3], "opacity": 1, "clip": true},
    "encoding": {"x": {"field": "u", "type": "quantitative", "axis": null}, "y": {"field": "v", "type": "quantitative", "axis": null}}},
   {"data": {"values": [{"u": 0.12, "u2": 1.0, "v": 0}]}, "mark": {"type": "rule", "color": "#111", "strokeWidth": 2.2, "strokeDash": [2, 4], "clip": true},
    "encoding": {"x": {"field": "u", "type": "quantitative", "axis": null}, "x2": {"field": "u2"}, "y": {"field": "v", "type": "quantitative", "axis": null}}},
   {"data": {"values": [{"u": 0.5, "v": -0.03, "v2": 0.03}]}, "mark": {"type": "rule", "color": "#111", "strokeWidth": 2},
    "encoding": {"x": {"field": "u", "type": "quantitative", "axis": null}, "y": {"field": "v", "type": "quantitative", "axis": null}, "y2": {"field": "v2"}}},
   {"data": {"name": "star"}, "mark": {"type": "line", "color": "#4a4a4a", "strokeWidth": 1.2},
    "encoding": {"x": {"field": "u", "type": "quantitative", "axis": null}, "y": {"field": "v", "type": "quantitative", "axis": null}, "order": {"field": "i", "type": "quantitative"}}},
   {"data": {"name": "polb"}, "mark": {"type": "line", "strokeWidth": 2.2, "clip": true},
    "encoding": {"x": {"field": "u", "type": "quantitative", "axis": null}, "y": {"field": "v", "type": "quantitative", "axis": null}, "order": {"field": "i", "type": "quantitative"},
     "color": {"field": "s", "type": "nominal", "scale": {"domain": ["solid", "dash", "dot"], "range": ["#a8a8a8", "#555555", "#111111"]}, "legend": null},
     "strokeDash": {"field": "s", "type": "nominal", "scale": {"domain": ["solid", "dash", "dot"], "range": [[1, 0], [9, 5], [2, 3]]}, "legend": null}}},
   {"data": {"values": [{"u": 0, "v": 0}]}, "mark": {"type": "point", "shape": "cross", "filled": true, "size": 70, "color": "#111", "opacity": 1},
    "encoding": {"x": {"field": "u", "type": "quantitative", "axis": null}, "y": {"field": "v", "type": "quantitative", "axis": null}}},
   {"data": {"values": [{"lab": "0.5", "u": 0.5, "v": -0.125}, {"lab": "1", "u": 1.0, "v": -0.125}]}, "mark": {"type": "text", "fontSize": 33, "align": "center", "baseline": "middle", "color": "#111", "clip": true},
    "encoding": {"x": {"field": "u", "type": "quantitative", "axis": null}, "y": {"field": "v", "type": "quantitative", "axis": null}, "text": {"field": "lab", "type": "nominal"}}},
   {"data": {"values": [{"lab": "b)", "u": -1.222, "v": 0.757}]}, "mark": {"type": "text", "fontSize": 46, "fontWeight": "bold", "align": "left", "baseline": "alphabetic", "color": "#111"},
    "encoding": {"x": {"field": "u", "type": "quantitative", "axis": null}, "y": {"field": "v", "type": "quantitative", "axis": null}, "text": {"field": "lab", "type": "nominal"}}}
  ]
 },
 {
  "width": 497, "height": 357,
  "layer": [
   {"data": {"name": "ts"}, "transform": [{"filter": "datum.p !== 'a'"}],
    "mark": {"type": "point", "shape": "cross", "angle": 45, "filled": true, "size": 24, "color": "#151515", "opacity": 1},
    "encoding": {
     "x": {"field": "t", "type": "quantitative", "scale": {"domain": [1996.98, 2006], "nice": false, "zero": false},
           "axis": {"orient": "bottom", "values": [1998, 2000, 2002, 2004, 2006], "format": "d", "ticks": false, "labelPadding": 6, "title": "Time (years)", "titlePadding": 3}},
     "y": {"field": "y", "type": "quantitative", "scale": {"domain": [-180, 180], "nice": false, "zero": false},
           "axis": {"orient": "left", "values": [-180, -90, 0, 90, 180], "labelExpr": "datum.value < 0 ? '' + (datum.value + 360) : datum.label", "tickSize": 6, "labelPadding": 3, "title": null}}
    }},
   {"data": {"values": [{"t": 2000, "y": 0}]}, "mark": {"type": "point", "opacity": 0},
    "encoding": {
     "x": {"field": "t", "type": "quantitative", "axis": {"orient": "top", "values": [1998, 1999, 2000, 2001, 2002, 2003, 2004, 2005, 2006], "labels": false, "tickSize": 6, "offset": -6, "title": null}},
     "y": {"field": "y", "type": "quantitative", "axis": {"orient": "right", "values": [-90, 0, 90], "labels": false, "tickSize": 6, "offset": -6, "title": null}}
    }},
   {"data": {"values": [{"t": 2000, "y": 0}]}, "mark": {"type": "point", "opacity": 0},
    "encoding": {
     "x": {"field": "t", "type": "quantitative", "axis": {"orient": "bottom", "values": [1998, 1999, 2000, 2001, 2002, 2003, 2004, 2005, 2006], "labels": false, "tickSize": 6, "offset": -6, "title": null}},
     "y": {"field": "y", "type": "quantitative", "axis": null}
    }},
   {"data": {"values": [{"t": 1997.18, "y": 134, "lab": "c)"}]}, "mark": {"type": "text", "fontSize": 46, "fontWeight": "bold", "align": "left", "baseline": "alphabetic", "color": "#111"},
    "encoding": {"x": {"field": "t", "type": "quantitative", "axis": null}, "y": {"field": "y", "type": "quantitative", "axis": null}, "text": {"field": "lab", "type": "nominal"}}}
  ],
  "resolve": {"axis": {"x": "independent", "y": "independent"}}
 },
 {
  "width": 347, "height": 357,
  "view": {"stroke": null},
  "layer": [
   {"data": {"name": "spokes"}, "mark": {"type": "rule", "color": "#111", "strokeWidth": 1, "strokeDash": [1.5, 3], "clip": true},
    "encoding": {
     "x": {"field": "z", "type": "quantitative", "scale": {"domain": [-1.02586, 0.967], "nice": false, "zero": false}, "axis": null},
     "y": {"field": "z", "type": "quantitative", "scale": {"domain": [-1.02586, 1.02586], "nice": false, "zero": false}, "axis": null},
     "x2": {"field": "u"}, "y2": {"field": "v"}}},
   {"data": {"values": [{"u": 0, "v": 0}]}, "mark": {"type": "point", "shape": "circle", "filled": false, "size": 121104, "color": "#111", "strokeWidth": 1, "strokeDash": [1.5, 3], "opacity": 1, "clip": true},
    "encoding": {"x": {"field": "u", "type": "quantitative", "axis": null}, "y": {"field": "v", "type": "quantitative", "axis": null}}},
   {"data": {"values": [{"u": 0, "v": 0}]}, "mark": {"type": "point", "shape": "circle", "filled": false, "size": 30276, "color": "#111", "strokeWidth": 1, "strokeDash": [1.5, 3], "opacity": 1, "clip": true},
    "encoding": {"x": {"field": "u", "type": "quantitative", "axis": null}, "y": {"field": "v", "type": "quantitative", "axis": null}}},
   {"data": {"values": [{"u": 0.12, "u2": 1.0, "v": 0}]}, "mark": {"type": "rule", "color": "#111", "strokeWidth": 2.2, "strokeDash": [2, 4], "clip": true},
    "encoding": {"x": {"field": "u", "type": "quantitative", "axis": null}, "x2": {"field": "u2"}, "y": {"field": "v", "type": "quantitative", "axis": null}}},
   {"data": {"values": [{"u": 0.5, "v": -0.03, "v2": 0.03}]}, "mark": {"type": "rule", "color": "#111", "strokeWidth": 2},
    "encoding": {"x": {"field": "u", "type": "quantitative", "axis": null}, "y": {"field": "v", "type": "quantitative", "axis": null}, "y2": {"field": "v2"}}},
   {"data": {"name": "star"}, "mark": {"type": "line", "color": "#6a6a6a", "strokeWidth": 1.2},
    "encoding": {"x": {"field": "u", "type": "quantitative", "axis": null}, "y": {"field": "v", "type": "quantitative", "axis": null}, "order": {"field": "i", "type": "quantitative"}}},
   {"data": {"name": "pold"}, "mark": {"type": "line", "strokeWidth": 2.2, "clip": true},
    "encoding": {"x": {"field": "u", "type": "quantitative", "axis": null}, "y": {"field": "v", "type": "quantitative", "axis": null}, "order": {"field": "i", "type": "quantitative"},
     "color": {"field": "s", "type": "nominal", "scale": {"domain": ["solid", "dash", "dot"], "range": ["#a8a8a8", "#555555", "#111111"]}, "legend": null},
     "strokeDash": {"field": "s", "type": "nominal", "scale": {"domain": ["solid", "dash", "dot"], "range": [[1, 0], [9, 5], [2, 3]]}, "legend": null}}},
   {"data": {"values": [{"u": 0, "v": 0}]}, "mark": {"type": "point", "shape": "cross", "filled": true, "size": 70, "color": "#111", "opacity": 1},
    "encoding": {"x": {"field": "u", "type": "quantitative", "axis": null}, "y": {"field": "v", "type": "quantitative", "axis": null}}},
   {"data": {"values": [{"lab": "0.5", "u": 0.5, "v": -0.125}, {"lab": "1", "u": 1.0, "v": -0.125}]}, "mark": {"type": "text", "fontSize": 33, "align": "center", "baseline": "middle", "color": "#111", "clip": true},
    "encoding": {"x": {"field": "u", "type": "quantitative", "axis": null}, "y": {"field": "v", "type": "quantitative", "axis": null}, "text": {"field": "lab", "type": "nominal"}}},
   {"data": {"values": [{"lab": "d)", "u": -1.222, "v": 0.751}]}, "mark": {"type": "text", "fontSize": 46, "fontWeight": "bold", "align": "left", "baseline": "alphabetic", "color": "#111"},
    "encoding": {"x": {"field": "u", "type": "quantitative", "axis": null}, "y": {"field": "v", "type": "quantitative", "axis": null}, "text": {"field": "lab", "type": "nominal"}}}
  ]
 }
],
"columns": 2,
"spacing": {"row": 39, "column": 83},
"bounds": "flush",
"align": "each"
}
